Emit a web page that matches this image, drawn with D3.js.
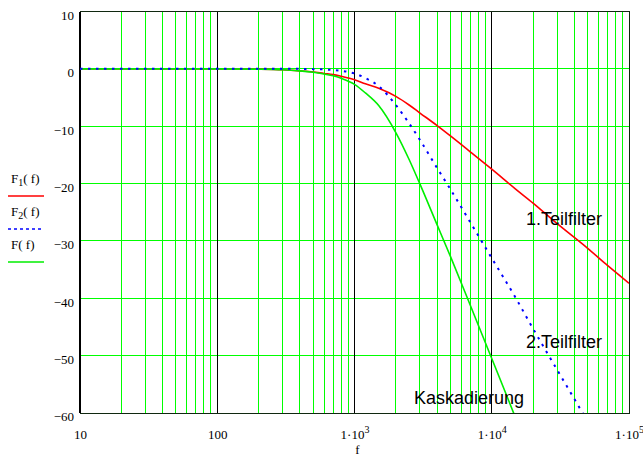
<!DOCTYPE html>
<html>
<head>
<meta charset="utf-8">
<script src="https://cdn.jsdelivr.net/npm/d3@7"></script>
<style>
  body { margin: 0; background: #fff; }
  svg { display: block; }
</style>
</head>
<body>
<div class="chart"></div>
<script>
// frequencies in Hz and the read curves in dB
const freqs = [10, 100, 200, 300, 400, 500, 600, 700, 800, 1000, 1200, 1500, 2000, 2500, 3000, 4000, 5000, 7000, 10000, 15000, 20000, 30000, 50000, 70000, 100000]
const f1Values = [0, 0, -0.05, -0.15, -0.35, -0.55, -0.8, -1.0, -1.3, -1.9, -2.6, -3.4, -4.8, -6.3, -7.7, -9.9, -11.7, -14.5, -17.5, -21.0, -23.4, -27.0, -31.3, -34.3, -37.4]
const f2Values = [0, 0, 0, 0, 0, -0.05, -0.1, -0.2, -0.35, -0.8, -1.6, -3.0, -6.3, -9.5, -12.4, -17.3, -21.0, -26.8, -33.0, -40.0, -45.3, -52.5, -61.5, -67.5, -73.5]
const fValues = [0, 0, -0.05, -0.15, -0.35, -0.6, -0.9, -1.2, -1.65, -2.7, -4.2, -6.4, -11.1, -15.8, -20.1, -27.2, -32.7, -41.3, -50.5, -61.0, -68.7, -79.5, -92.8, -101.8, -110.9]

const xTicks = [10, 100, 1000, 10000, 100000]
const yTicks = [10, 0, -10, -20, -30, -40, -50, -60]
const legendNames = ["F", "F", "F"]
const legendSubs = ["1", "2", ""]
const curveLabels = ["1.Teilfilter", "2.Teilfilter", "Kaskadierung"]

const width = 643, height = 457
const margin = {top: 11.5, right: 14, bottom: 44, left: 80}

const svg = d3.select(".chart").append("svg")
  .attr("width", width)
  .attr("height", height)

const x = d3.scaleLog().domain([10, 100000]).range([margin.left, width - margin.right])
const y = d3.scaleLinear().domain([-60, 10]).range([height - margin.bottom, margin.top])

// minor decade grid (2..9 of every decade)
const minor = []
for (let d = 10; d < 100000; d *= 10) {
  for (let k = 2; k <= 9; k++) minor.push(d * k)
}

const grid = svg.append("g").attr("shape-rendering", "crispEdges")

grid.selectAll(".vminor")
  .data(minor)
  .enter().append("line")
  .attr("x1", d => x(d)).attr("x2", d => x(d))
  .attr("y1", y(10)).attr("y2", y(-60))
  .attr("stroke", "#00ff00")

grid.selectAll(".hgrid")
  .data(yTicks)
  .enter().append("line")
  .attr("x1", x(10)).attr("x2", x(100000))
  .attr("y1", d => y(d)).attr("y2", d => y(d))
  .attr("stroke", "#00ff00")

grid.selectAll(".vmajor")
  .data([100, 1000, 10000])
  .enter().append("line")
  .attr("x1", d => x(d)).attr("x2", d => x(d))
  .attr("y1", y(10)).attr("y2", y(-60))
  .attr("stroke", "#000")

// frame
grid.append("rect")
  .attr("x", x(10)).attr("y", y(10))
  .attr("width", x(100000) - x(10))
  .attr("height", y(-60) - y(10))
  .attr("fill", "none")
  .attr("stroke", "#102810")
grid.append("line")
  .attr("x1", x(10)).attr("x2", x(10))
  .attr("y1", y(10)).attr("y2", y(-60))
  .attr("stroke", "#000").attr("stroke-width", 2)

// axes
const xAxis = svg.append("g")
  .attr("transform", "translate(0," + (y(-60) + 17) + ")")
  .call(d3.axisBottom(x).tickValues(xTicks).tickSize(0).tickFormat(""))
xAxis.select(".domain").remove()
xAxis.selectAll(".tick text").remove()
xAxis.selectAll(".tick").append("text")
  .attr("y", 9)
  .attr("fill", "#000")
  .style("font-family", "'Liberation Serif', serif")
  .style("font-size", "13px")
  .attr("text-anchor", "middle")
  .each(function(d) {
    const t = d3.select(this)
    if (d < 1000) { t.text(d); return }
    t.append("tspan").text("1\u00b710")
    t.append("tspan").attr("dy", -6).style("font-size", "10px").text(Math.round(Math.log10(d)))
  })

const yAxis = svg.append("g")
  .attr("transform", "translate(" + (x(10) - 6) + ",0)")
  .call(d3.axisLeft(y).tickValues(yTicks).tickSize(0).tickPadding(0)
    .tickFormat(d => d < 0 ? "\u2212" + (-d) : d))
yAxis.select(".domain").remove()
yAxis.selectAll(".tick text")
  .attr("dy", "0.6em")
  .attr("fill", "#000")
  .style("font-family", "'Liberation Serif', serif")
  .style("font-size", "13px")

svg.append("text")
  .attr("x", x(1000) + 3).attr("y", 453.5)
  .attr("text-anchor", "middle")
  .style("font-family", "'Liberation Serif', serif")
  .style("font-size", "13px")
  .text("f")

// curves
svg.append("clipPath").attr("id", "plotclip")
  .append("rect")
  .attr("x", x(10)).attr("y", y(10))
  .attr("width", x(100000) - x(10))
  .attr("height", y(-60) - y(10))

const line = d3.line()
  .x(d => x(d[0]))
  .y(d => y(d[1]))
  .curve(d3.curveMonotoneX)

const series = [
  {vals: f1Values, color: "#ff0000", dash: null},
  {vals: fValues, color: "#00ee00", dash: null},
  {vals: f2Values, color: "#0000ff", dash: "2.5,5.5"}
]

const plot = svg.append("g").attr("clip-path", "url(#plotclip)")
plot.selectAll(".curve")
  .data(series)
  .enter().append("path")
  .attr("d", s => line(freqs.map((f, i) => [f, s.vals[i]])))
  .attr("fill", "none")
  .attr("stroke", s => s.color)
  .attr("stroke-width", s => s.dash ? 2 : 1.6)
  .attr("stroke-dasharray", s => s.dash)

// labels on the curves
const labelPos = [[526, 225], [526, 348], [414, 404]]
svg.selectAll(".clabel")
  .data(curveLabels)
  .enter().append("text")
  .attr("x", (d, i) => labelPos[i][0])
  .attr("y", (d, i) => labelPos[i][1])
  .style("font-family", "'Liberation Sans', Arial, sans-serif")
  .style("font-size", "18px")
  .attr("fill", "#000")
  .text(d => d)

// legend at the left
const legColors = ["#ff0000", "#0000ff", "#00ee00"]
const legDash = [null, "3,3", null]
const leg = svg.selectAll(".legends")
  .data(legendNames)
  .enter().append("g")
  .attr("class", "legends")
  .attr("transform", (d, i) => "translate(0," + (i * 33) + ")")

leg.append("text")
  .attr("x", 11).attr("y", 183)
  .style("font-family", "'Liberation Serif', serif")
  .style("font-size", "13px")
  .each(function(d, i) {
    const t = d3.select(this)
    t.append("tspan").text(d)
    if (legendSubs[i]) t.append("tspan").attr("dy", 3).style("font-size", "10px").text(legendSubs[i])
    t.append("tspan").attr("dy", legendSubs[i] ? -3 : 0).text("( f)")
  })

leg.append("line")
  .attr("x1", 8).attr("x2", 44)
  .attr("y1", 196).attr("y2", 196)
  .attr("stroke", (d, i) => legColors[i])
  .attr("stroke-width", 1.6)
  .attr("stroke-dasharray", (d, i) => legDash[i])
</script>
</body>
</html>
